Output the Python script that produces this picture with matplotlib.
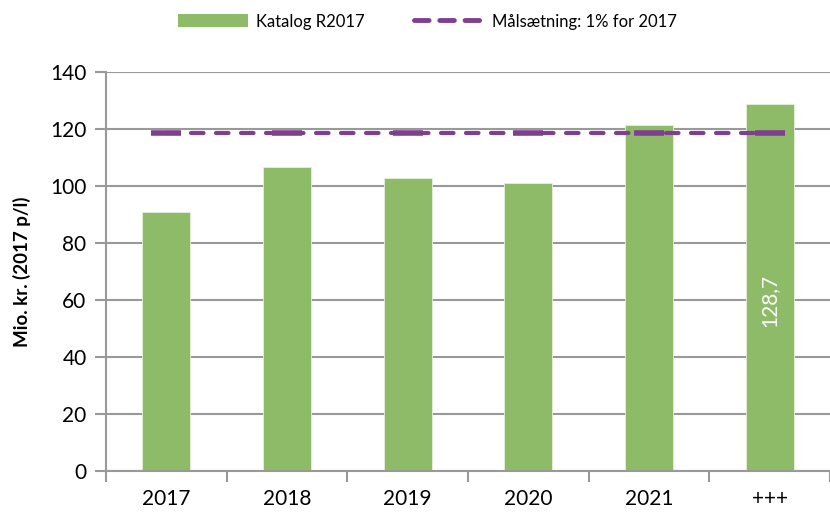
import matplotlib
matplotlib.use("Agg")
import matplotlib.pyplot as plt
from matplotlib.lines import Line2D
from matplotlib.patches import Patch

plt.rcParams['font.family'] = ['Lato', 'DejaVu Sans']

# data
years = ['2017', '2018', '2019', '2020', '2021', '+++']
katalog = [90.9, 106.7, 102.9, 101.0, 121.4, 128.7]
maal = [118.5, 118.5, 118.5, 118.5, 118.5, 118.5]
label_last = '128,7'

green = '#8EBB67'
purple = '#7E3F8E'
grey = '#999999'

fig = plt.figure(figsize=(8.3, 5.12), dpi=100)
ax = fig.add_axes([106 / 830, 41 / 512, 724 / 830, 399 / 512])

x = list(range(len(years)))
ax.bar(x, katalog, width=0.4, color=green, edgecolor='#e8f0dc', linewidth=0.6, zorder=2)
ax.plot(x, maal, color=purple, lw=3, ls=(0, (3, 3)), dash_capstyle='round',
        marker='_', markersize=22, markeredgewidth=4, zorder=3)

# value label inside the last bar
ax.text(x[-1], 60, label_last, rotation=90, color='white', fontsize=15,
        ha='center', va='center', zorder=4)

ax.set_xlim(-0.5, 5.5)
ax.set_ylim(0, 140)
ax.set_yticks(range(0, 141, 20))
ax.grid(axis='y', color=grey, lw=1.5, zorder=0)
ax.set_axisbelow(True)

ax.set_xticks(x)
ax.set_xticklabels(years)
ax.set_xticks([i - 0.5 for i in range(len(years) + 1)], minor=True)
ax.tick_params(axis='x', which='major', length=0, pad=13, labelsize=15)
ax.tick_params(axis='x', which='minor', length=8, width=1.5, color=grey, direction='out')
ax.tick_params(axis='y', length=8, width=1.5, color=grey, labelsize=15, pad=6)

for side in ['top', 'right']:
    ax.spines[side].set_visible(False)
for side in ['left', 'bottom']:
    ax.spines[side].set_color(grey)
    ax.spines[side].set_linewidth(1.5)

ax.set_ylabel('Mio. kr. (2017 p/l)', fontsize=13.5, fontweight='bold', labelpad=14)

handles = [Patch(facecolor=green, edgecolor='none'),
           Line2D([0], [0], color=purple, lw=3.5, ls=(0, (3, 2.2)), dash_capstyle='round')]
fig.legend(handles, ['Katalog R2017', 'Målsætning: 1% for 2017'],
           loc='center', bbox_to_anchor=(0.515, 0.958), ncol=2, frameon=False,
           fontsize=12, handlelength=4.2, handleheight=0.8, columnspacing=3.0,
           handletextpad=0.45)

fig.savefig('out.png', dpi=100)
